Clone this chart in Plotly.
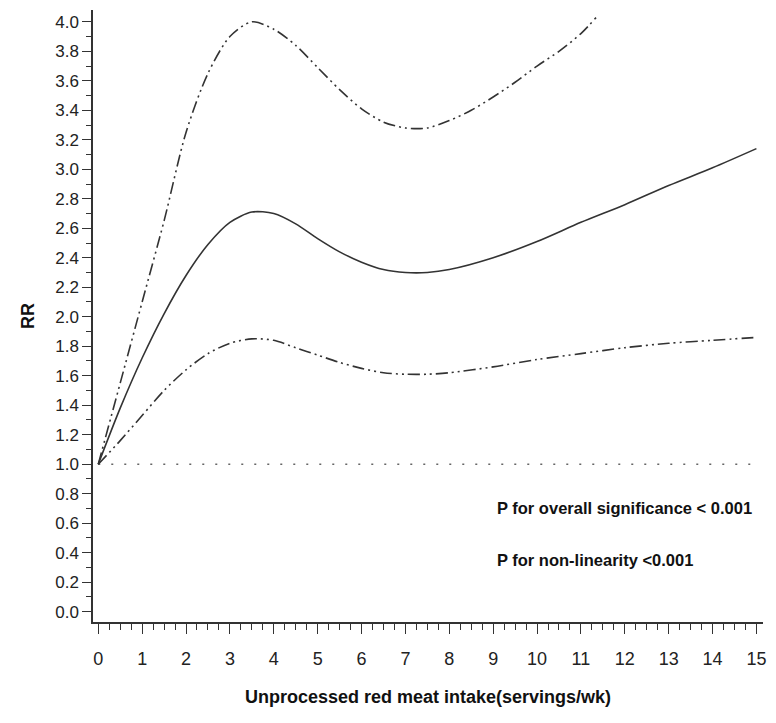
import plotly.graph_objects as go

# Data
intake = [0, 0.5, 1, 1.5, 2, 2.5, 3, 3.5, 4, 4.5, 5, 5.5, 6, 6.5, 7, 7.5, 8, 9, 10, 11, 12, 13, 14, 15]
rr_center = [1.0, 1.38, 1.72, 2.02, 2.28, 2.49, 2.64, 2.71, 2.70, 2.63, 2.53, 2.44, 2.37, 2.32, 2.30, 2.30,
             2.32, 2.40, 2.51, 2.64, 2.76, 2.89, 3.01, 3.14]
rr_lower = [1.0, 1.16, 1.33, 1.50, 1.64, 1.75, 1.82, 1.85, 1.84, 1.79, 1.74, 1.69, 1.65, 1.62, 1.61, 1.61,
            1.62, 1.66, 1.71, 1.75, 1.79, 1.82, 1.84, 1.86]
intake_upper = [0, 0.5, 1, 1.5, 2, 2.5, 3, 3.5, 4, 4.5, 5, 5.5, 6, 6.5, 7, 7.5, 8, 8.5, 9, 9.5, 10, 10.5, 11, 11.35]
rr_upper = [1.0, 1.55, 2.1, 2.65, 3.25, 3.65, 3.9, 4.0, 3.95, 3.84, 3.69, 3.54, 3.41, 3.32, 3.28, 3.28,
            3.33, 3.40, 3.49, 3.59, 3.70, 3.80, 3.92, 4.03]
ref_x = [0, 15]
ref_y = [1.0, 1.0]

x_ticks = list(range(0, 16))
y_ticks = [round(0.2 * i, 1) for i in range(0, 21)]
y_labels = [f"{v:.1f}" for v in y_ticks]

note1 = "P for overall significance < 0.001"
note2 = "P for non-linearity <0.001"
x_title = "Unprocessed red meat intake(servings/wk)"
y_title = "RR"

FONT = "Liberation Sans, Arial, sans-serif"
CI_DASH = "12px,4px,2px,4px,2px,4px"

fig = go.Figure()
fig.add_trace(go.Scatter(x=ref_x, y=ref_y, mode="lines",
                         line=dict(color="#666666", width=1.5, dash="2px,11px"),
                         hoverinfo="skip"))
fig.add_trace(go.Scatter(x=intake_upper, y=rr_upper, mode="lines",
                         line=dict(color="#333333", width=1.6, dash=CI_DASH, shape="spline", smoothing=0.8)))
fig.add_trace(go.Scatter(x=intake, y=rr_lower, mode="lines",
                         line=dict(color="#333333", width=1.6, dash=CI_DASH, shape="spline", smoothing=0.8)))
fig.add_trace(go.Scatter(x=intake, y=rr_center, mode="lines",
                         line=dict(color="#333333", width=1.6, shape="spline", smoothing=0.8)))

fig.add_annotation(x=9.05, y=0.70, xref="x", yref="y", text=f"<b>{note1}</b>", showarrow=False,
                   xanchor="left", yanchor="middle", font=dict(family=FONT, size=16.5, color="#111111"))
fig.add_annotation(x=9.05, y=0.35, xref="x", yref="y", text=f"<b>{note2}</b>", showarrow=False,
                   xanchor="left", yanchor="middle", font=dict(family=FONT, size=16.5, color="#111111"))

fig.update_layout(
    width=776, height=723,
    margin=dict(l=93, r=13, t=10, b=101),
    paper_bgcolor="white", plot_bgcolor="white",
    showlegend=False,
    font=dict(family=FONT, color="#222222"),
    xaxis=dict(
        range=[-0.12, 15.15], tickmode="array", tickvals=x_ticks, ticktext=[str(v) for v in x_ticks],
        showgrid=False, zeroline=False, showline=True, linecolor="#333333", linewidth=1.5,
        ticks="outside", ticklen=10, tickwidth=1.2, tickcolor="#333333",
        tickfont=dict(family=FONT, size=18, color="#222222"),
        ticklabelstandoff=10,
        minor=dict(dtick=0.25, tick0=0, ticks="outside", ticklen=6, tickwidth=1, tickcolor="#333333", showgrid=False),
        title=dict(text=f"<b>{x_title}</b>", font=dict(family=FONT, size=18, color="#111111"), standoff=22),
    ),
    yaxis=dict(
        range=[-0.07, 4.08], tickmode="array", tickvals=y_ticks, ticktext=y_labels,
        showgrid=False, zeroline=False, showline=True, linecolor="#333333", linewidth=1.5,
        ticks="outside", ticklen=9, tickwidth=1.2, tickcolor="#333333",
        tickfont=dict(family=FONT, size=17, color="#222222"),
        minor=dict(dtick=0.1, tick0=0, ticks="outside", ticklen=5, tickwidth=1, tickcolor="#333333", showgrid=False),
        title=dict(text=f"<b>{y_title}</b>", font=dict(family=FONT, size=18, color="#111111"), standoff=16),
    ),
)

fig.write_html("out.html")
